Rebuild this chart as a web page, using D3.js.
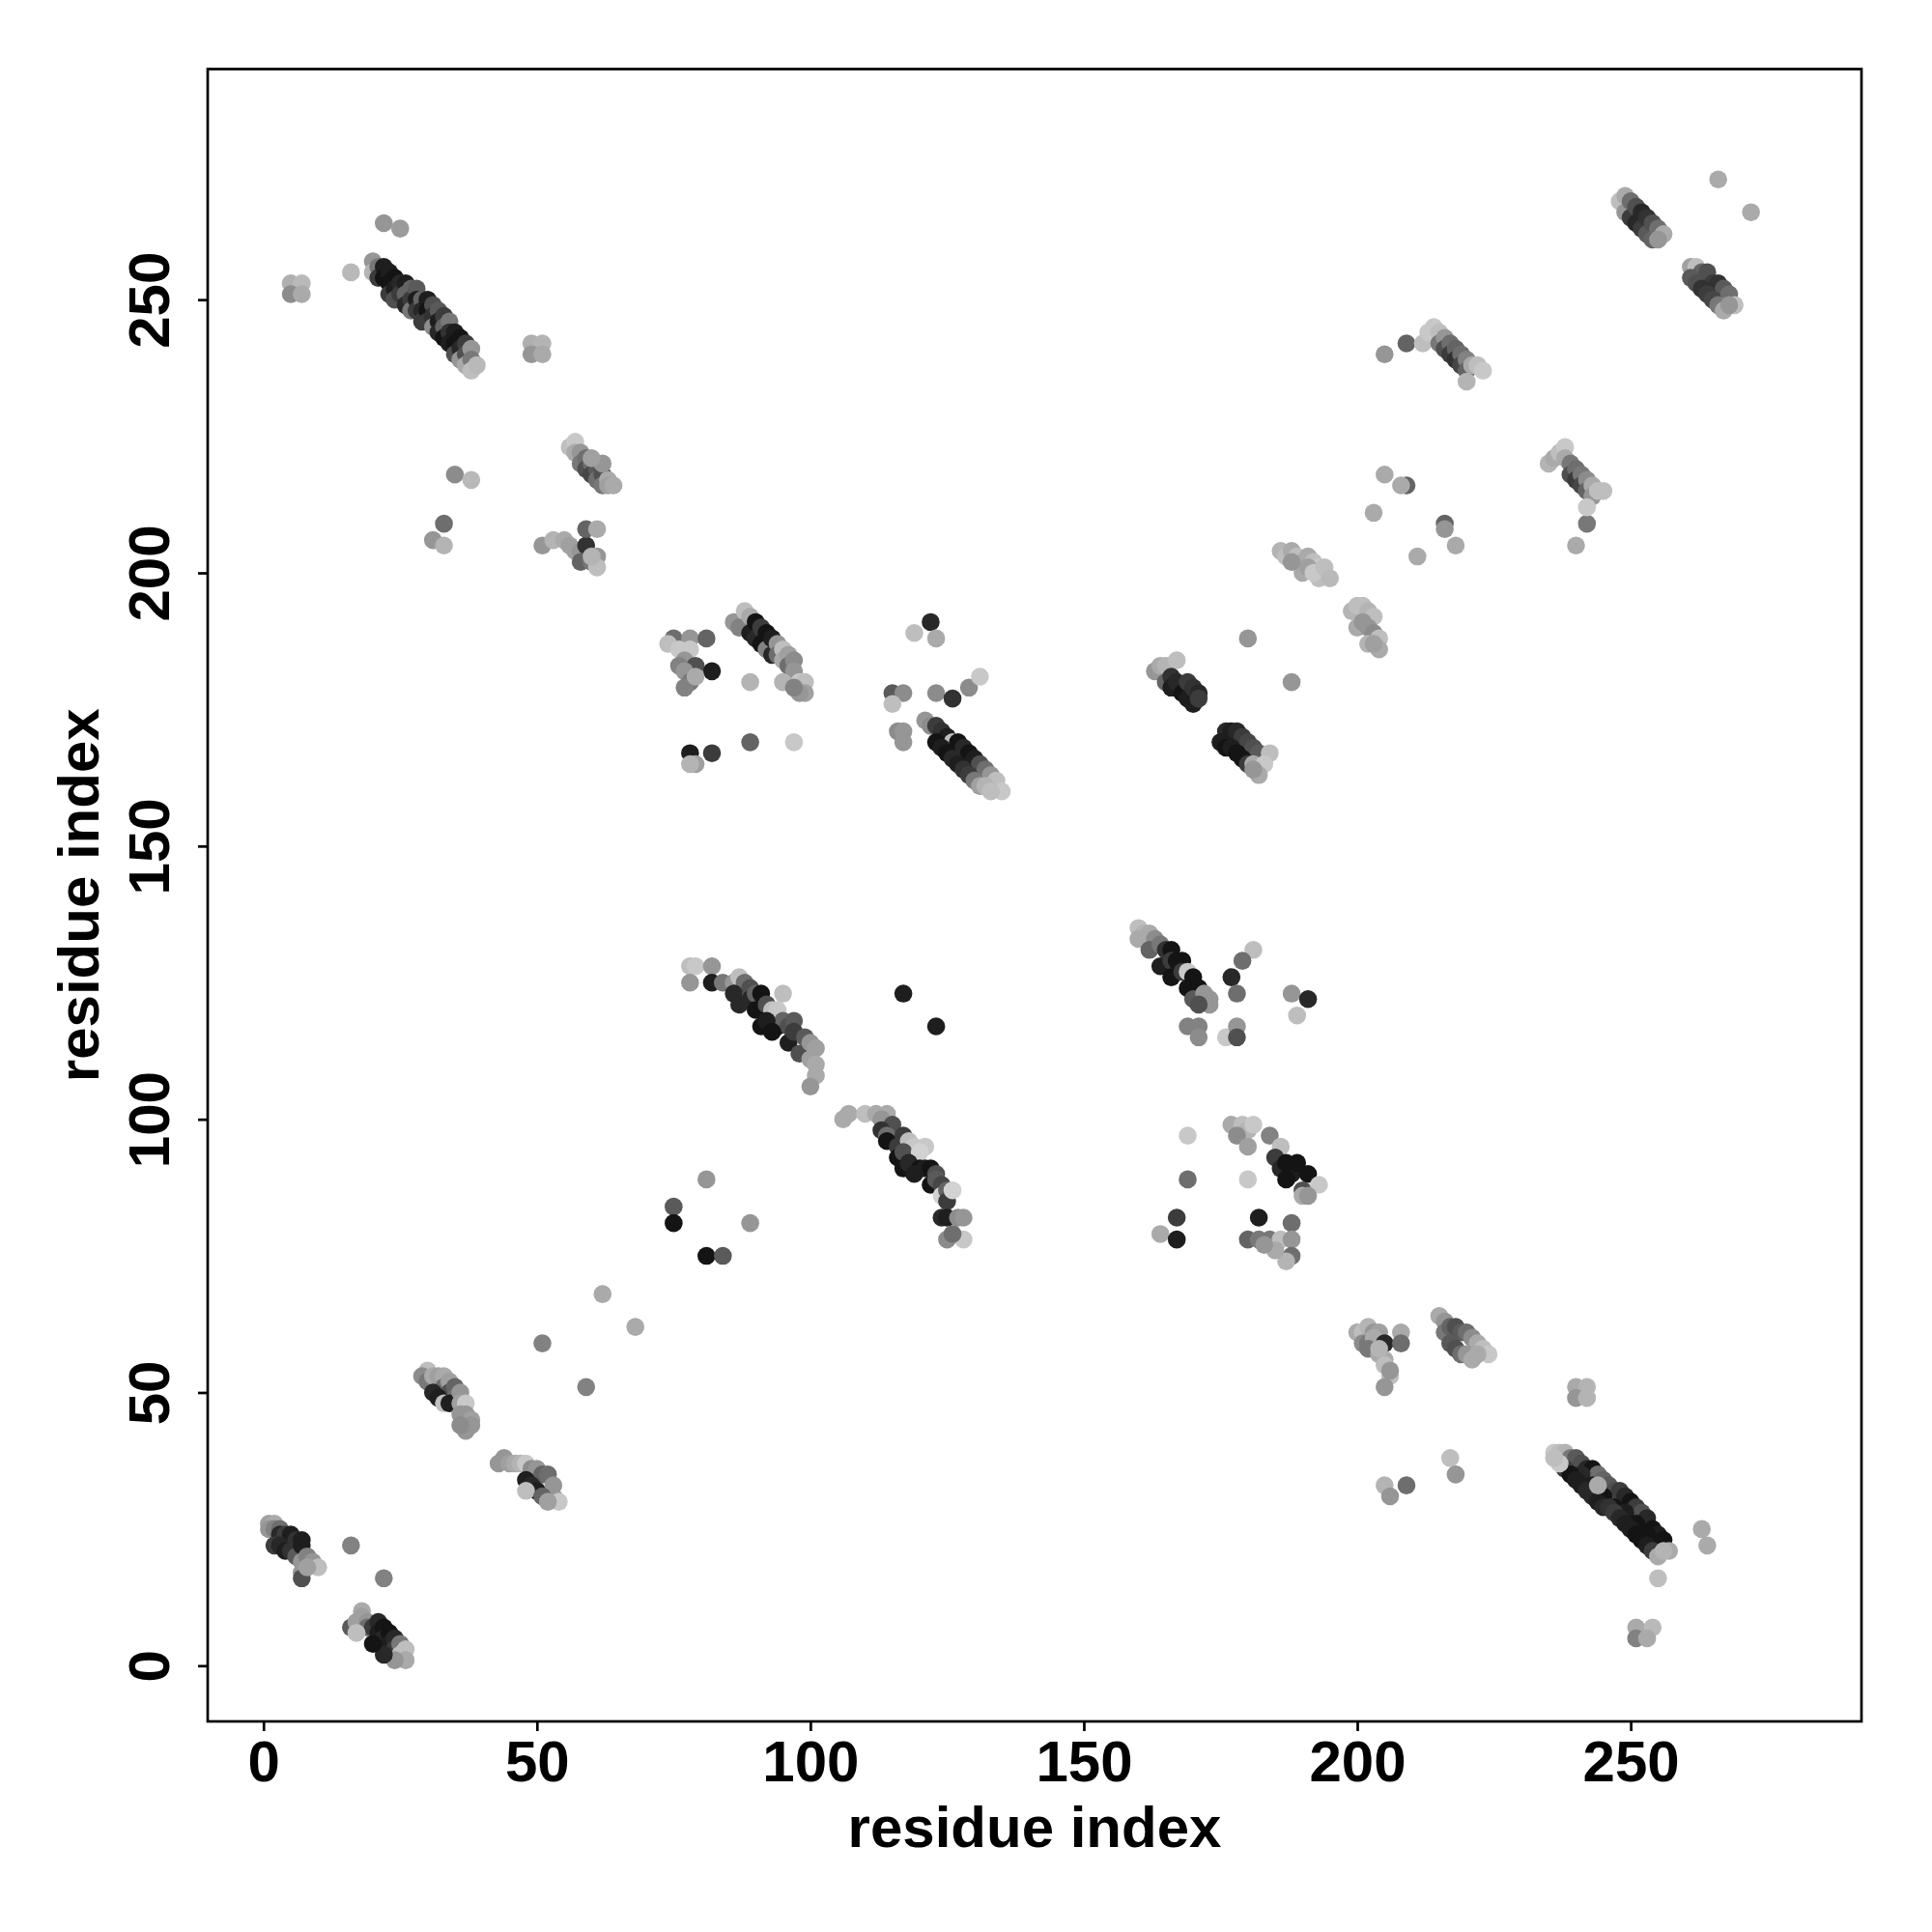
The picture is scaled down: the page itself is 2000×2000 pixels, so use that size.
<!DOCTYPE html>
<html><head><meta charset="utf-8">
<script src="https://cdn.jsdelivr.net/npm/d3@7"></script>
<style>html,body{margin:0;padding:0;background:#fff}</style>
</head><body>
<svg id="c" width="2000" height="2000"></svg>
<script>
// Each point: [residue i, residue j, gray level 0-255]
const tickValues = [0, 50, 100, 150, 200, 250];
const xLabel = "residue index", yLabel = "residue index";

const topLeftIsolated = [[5,253,175],[7,253,185],[5,251,140],[7,251,170],[16,255,185],[22,264,150],[25,263,155],[49,242,175],[51,242,180],[49,240,150],[51,240,170],[35,218,140],[38,217,185],[33,209,110],[31,206,150],[33,205,180]];
const topLeftBand = [[20,257,150],[20,255,180],[21,256,120],[21,254,60],[22,256,30],[22,254,20],[23,255,30],[23,253,20],[23,251,60],[24,254,20],[24,252,30],[24,250,80],[25,253,40],[25,251,60],[26,253,30],[26,251,100],[26,249,40],[27,252,100],[27,250,60],[27,248,120],[28,252,90],[28,250,30],[28,248,60],[29,250,100],[29,248,40],[29,246,60],[30,250,30],[30,248,20],[30,246,60],[31,249,80],[31,247,50],[31,245,140],[32,248,90],[32,246,30],[32,244,40],[33,247,60],[33,245,100],[33,243,20],[34,246,120],[34,244,50],[34,242,30],[35,244,30],[35,242,20],[35,240,80],[36,243,20],[36,241,40],[36,239,150],[37,242,60],[37,240,80],[37,238,170],[38,241,150],[38,239,120],[38,237,190],[39,238,185]];
const band56 = [[56,223,190],[57,224,200],[57,222,170],[58,222,150],[58,220,120],[59,221,110],[59,219,80],[60,220,110],[60,218,70],[61,219,90],[61,217,110],[62,218,80],[62,216,120],[63,217,170],[63,216,160],[64,216,170],[62,220,150],[60,221,160]];
const group51 = [[51,205,150],[53,206,180],[55,206,170],[56,205,160],[57,204,160],[58,204,150],[59,205,50],[59,208,100],[61,208,170],[61,203,150],[58,202,100],[60,202,120],[61,201,190],[60,203,180]];
const group75 = [[75,188,110],[78,188,150],[81,188,100],[74,187,190],[76,186,200],[78,186,200],[77,184,150],[76,183,130],[79,183,80],[82,182,30],[78,181,40],[77,182,150],[78,180,120],[77,179,130],[79,181,170],[78,167,30],[82,167,60],[79,165,160],[78,165,180],[89,169,100],[97,169,200],[89,180,180]];
const band86 = [[86,191,150],[87,190,130],[88,193,190],[89,192,170],[89,189,30],[90,191,20],[90,188,40],[91,190,60],[91,187,20],[92,189,20],[92,186,130],[93,188,30],[93,185,40],[94,187,150],[94,185,110],[95,186,190],[95,184,170],[96,185,160],[96,183,110],[97,184,140],[97,182,150],[98,180,200],[99,180,190],[99,178,160],[98,178,150],[95,180,180],[97,179,130]];
const group120 = [[122,191,40],[119,189,190],[123,188,170],[115,178,90],[117,178,140],[115,176,190],[123,178,140],[126,177,50],[129,179,140],[131,181,200],[116,171,140],[117,171,150],[117,169,150],[121,173,150],[122,172,140],[123,172,60],[124,171,50],[125,170,30],[126,169,190],[127,169,20],[128,168,40],[129,167,20],[130,166,30],[131,165,80],[132,164,110],[133,163,150],[134,162,190],[135,160,200],[123,169,20],[124,168,30],[125,167,20],[126,166,40],[127,165,30],[128,164,50],[129,163,60],[130,162,120],[131,161,160],[132,161,180],[133,160,190]];
const band78 = [[78,128,190],[79,128,200],[82,128,150],[78,125,150],[82,125,30],[84,125,120],[86,125,150],[87,126,190],[88,125,110],[89,124,80],[89,122,40],[90,123,100],[91,123,20],[90,120,20],[91,117,20],[92,121,80],[93,120,190],[94,120,200],[95,123,190],[94,117,20],[95,118,100],[96,117,80],[97,118,90],[96,114,30],[97,116,60],[98,112,80],[99,115,90],[100,114,150],[101,113,160],[100,111,160],[101,110,170],[101,108,170],[100,106,150],[86,123,40],[87,121,40],[92,118,30],[93,116,20]];
const isolatedMid = [[117,123,30],[123,117,30],[81,89,150],[75,84,90],[75,81,20],[89,81,150],[81,75,20],[84,75,90],[62,68,170],[68,62,170],[51,59,130],[59,51,130],[16,22,130],[22,16,130]];
const band106 = [[106,100,170],[107,101,170],[110,101,190],[112,101,170],[114,101,170],[113,100,150],[115,99,80],[113,98,50],[114,97,110],[117,97,60],[114,96,20],[116,95,60],[118,96,190],[119,95,200],[121,95,200],[116,93,20],[117,94,80],[120,94,210],[117,91,20],[118,92,40],[120,91,20],[119,90,30],[121,91,30],[122,91,20],[123,90,80],[122,88,20],[123,89,90],[124,88,70],[124,86,210],[125,87,100],[125,85,60],[126,87,210],[124,82,40],[125,82,30],[127,82,140],[128,82,150],[125,78,140],[128,78,200],[126,79,110]];
const band163 = [[163,182,150],[164,183,170],[165,183,180],[167,184,190],[165,180,100],[166,181,50],[166,179,30],[167,180,40],[168,178,20],[169,180,60],[169,177,30],[170,179,50],[171,178,40],[170,176,30],[171,177,60],[180,188,150],[188,180,150]];
const band176 = [[176,171,40],[177,171,30],[178,171,40],[179,170,60],[180,169,70],[181,168,80],[182,167,90],[184,167,190],[175,169,30],[176,168,20],[177,168,30],[178,167,20],[179,166,20],[180,165,60],[181,165,170],[183,165,200],[182,163,170],[181,164,150]];
const band160 = [[160,135,190],[161,134,180],[162,134,170],[160,133,170],[163,133,140],[162,131,100],[164,132,120],[165,131,50],[166,131,20],[164,128,30],[166,129,60],[167,129,20],[168,129,20],[166,126,20],[168,127,60],[169,127,200],[170,126,20],[169,124,20],[171,124,20],[170,122,90],[172,123,150],[173,122,150],[173,121,150],[171,121,80],[181,131,190],[179,129,110],[177,126,40],[178,123,110],[188,123,150],[191,122,40],[189,119,190],[169,117,130],[171,117,130],[171,115,140],[176,115,200],[178,117,150],[178,115,80]];
const group177 = [[169,97,200],[169,89,110],[167,82,60],[164,79,170],[167,78,30],[180,89,200],[177,99,170],[179,99,190],[180,98,180],[181,99,200],[178,97,140],[180,95,160],[184,97,130],[186,95,190],[185,93,60],[186,91,40],[188,90,30],[187,92,20],[189,92,20],[191,90,20],[187,89,20],[190,87,80],[193,88,200],[190,86,170],[191,86,150],[182,82,30],[188,81,110],[180,78,100],[182,78,120],[184,78,120],[186,78,190],[188,78,150],[188,75,110],[187,74,180],[185,76,170],[183,77,150]];
const group186 = [[186,204,180],[187,203,190],[188,204,170],[189,203,190],[190,202,180],[191,203,170],[192,202,190],[193,201,200],[194,200,180],[193,199,190],[190,200,170],[191,201,160],[188,202,150],[192,200,200],[194,201,190],[195,199,185],[199,193,180],[200,194,190],[201,194,190],[202,193,180],[203,192,190],[200,190,170],[201,191,150],[202,190,150],[203,189,140],[204,188,190],[202,187,180],[204,186,170],[203,187,160]];
const isolatedTopRight = [[205,240,150],[209,242,100],[205,218,170],[209,216,100],[208,216,170],[203,211,170],[216,209,100],[216,208,150],[218,205,170],[211,203,170],[242,209,120],[240,205,170],[266,272,170],[272,266,170]];
const band212 = [[212,242,190],[213,244,200],[214,245,200],[215,244,190],[215,242,120],[216,243,150],[216,241,80],[217,242,110],[217,240,60],[218,241,100],[218,239,50],[219,240,110],[219,238,70],[220,239,130],[220,237,100],[221,238,170],[222,238,190],[223,237,200],[220,235,180]];
const band235 = [[235,220,180],[236,221,170],[237,222,190],[238,223,200],[238,221,170],[239,220,120],[239,218,80],[240,219,110],[240,217,60],[241,218,120],[241,216,70],[242,217,140],[242,215,100],[243,216,170],[243,214,150],[244,215,190],[245,215,190],[242,212,200]];
const band248 = [[248,268,190],[249,269,170],[249,266,150],[250,268,110],[250,265,60],[251,267,80],[251,264,40],[252,266,40],[252,263,60],[253,265,50],[253,262,90],[254,264,80],[254,261,100],[255,263,110],[256,262,170],[255,261,150]];
const band261 = [[261,256,160],[262,256,190],[263,255,100],[264,255,80],[265,253,60],[266,253,50],[267,252,90],[268,251,110],[269,249,190],[261,254,90],[262,253,80],[263,252,50],[264,251,60],[265,250,70],[266,249,120],[267,248,170],[268,249,150]];
const band30 = [[30,54,190],[29,53,140],[30,52,120],[31,53,170],[32,53,160],[33,53,170],[33,51,110],[34,52,160],[34,50,80],[35,51,100],[35,49,110],[31,50,40],[32,49,30],[33,48,190],[34,48,30],[36,50,150],[36,48,160],[37,48,200],[37,46,150],[36,46,150],[38,45,160],[38,44,150],[37,43,150],[36,44,140]];
const band43 = [[43,37,150],[44,38,150],[45,37,160],[46,37,170],[47,37,180],[48,37,200],[49,36,140],[50,36,150],[51,35,100],[52,35,110],[48,34,30],[49,33,40],[50,32,30],[53,33,150],[53,31,150],[54,30,200],[48,32,190],[51,31,100],[52,30,160]];
const band1 = [[1,26,160],[2,26,170],[1,25,150],[2,25,130],[3,25,110],[3,24,40],[4,24,60],[5,24,30],[6,23,50],[7,23,30],[2,22,60],[3,22,40],[4,21,30],[5,21,50],[6,20,90],[7,22,30],[7,19,150],[8,20,130],[9,19,150],[10,18,190],[7,17,150],[7,16,80],[8,18,160]];
const band16 = [[16,7,90],[17,8,160],[18,10,170],[18,9,160],[19,8,150],[19,7,110],[20,7,60],[21,8,40],[21,6,30],[22,7,20],[22,5,40],[23,6,20],[23,4,30],[24,5,40],[24,3,60],[25,4,120],[25,2,190],[26,3,190],[26,1,170],[24,1,150],[22,2,40],[20,4,20],[17,6,190]];
const group200 = [[200,61,170],[201,61,190],[202,62,180],[203,61,150],[204,61,160],[201,59,140],[202,59,120],[203,60,170],[205,59,40],[208,61,170],[208,59,110],[202,58,120],[204,57,170],[205,56,170],[205,55,190],[206,53,190],[205,51,150],[206,54,150],[204,58,180],[205,33,180],[209,33,110],[206,31,150],[217,38,190],[218,35,150]];
const band215 = [[215,64,170],[216,63,150],[216,61,120],[217,62,100],[218,62,80],[219,61,90],[220,61,110],[221,60,140],[222,59,170],[223,58,190],[224,57,200],[217,59,90],[218,58,80],[219,57,110],[220,57,150],[221,56,170],[222,57,170]];
const band237 = [[236,39,200],[237,39,190],[238,39,180],[239,38,120],[240,38,90],[241,37,80],[242,36,40],[243,36,20],[244,35,110],[245,34,100],[246,33,90],[247,32,80],[248,32,60],[249,31,40],[250,30,20],[251,29,60],[252,28,80],[253,27,40],[254,25,20],[255,24,30],[256,23,20],[257,21,170],[241,35,40],[243,33,30],[245,31,20],[247,29,20],[249,28,30],[251,26,20],[253,24,20],[238,36,60],[239,35,20],[240,34,30],[241,33,30],[242,32,40],[243,31,40],[244,30,30],[245,29,40],[246,29,50],[247,28,60],[248,27,40],[249,26,30],[250,25,30],[251,24,20],[252,23,20],[253,22,30],[254,21,60],[255,20,170],[256,21,180],[244,33,170],[237,37,200],[236,38,190]];
const isolatedBottomRight = [[240,51,170],[242,51,180],[240,49,150],[242,49,180],[263,25,170],[264,22,170],[255,16,190],[251,7,170],[254,7,185],[251,5,130],[253,5,170]];

const groups = [topLeftIsolated, topLeftBand, band56, group51, group75, band86, group120, band78, isolatedMid, band106, band163, band176, band160, group177, group186, isolatedTopRight, band212, band235, band248, band261, band30, band43, band1, band16, group200, band215, band237, isolatedBottomRight];
const points = groups.flat();

const svg = d3.select("#c");
const L = 215, R = 1927, T = 71.5, B = 1782;
const x = d3.scaleLinear().domain([-10.2, 292.2]).range([L, R]);
const y = d3.scaleLinear().domain([-10.2, 292.2]).range([B, T]);
const font = "'Liberation Sans', Arial, Helvetica, sans-serif";
const fs = 60;

svg.append("g").selectAll("circle").data(points).join("circle")
  .attr("cx", d => x(d[0])).attr("cy", d => y(d[1])).attr("r", 9.3)
  .attr("fill", d => `rgb(${d[2]},${d[2]},${d[2]})`);

const xa = svg.append("g").attr("transform", `translate(0,${B})`)
  .call(d3.axisBottom(x).tickValues(tickValues).tickSize(10).tickFormat(d3.format("d")));
xa.select(".domain").remove();
xa.selectAll("line").attr("stroke", "#000").attr("stroke-width", 2.7);
xa.selectAll("text").attr("y", 62).attr("dy", 0)
  .attr("font-family", font).attr("font-weight", "bold").attr("font-size", fs).attr("fill", "#000");

const ya = svg.append("g").attr("transform", `translate(${L},0)`)
  .call(d3.axisLeft(y).tickValues(tickValues).tickSize(10).tickFormat(d3.format("d")));
ya.select(".domain").remove();
ya.selectAll("line").attr("stroke", "#000").attr("stroke-width", 2.7);
ya.selectAll("text").attr("x", 0).attr("y", -40).attr("dy", 0)
  .attr("transform", "rotate(-90)").attr("text-anchor", "middle")
  .attr("font-family", font).attr("font-weight", "bold").attr("font-size", fs).attr("fill", "#000");

svg.append("rect").attr("x", L).attr("y", T).attr("width", R - L).attr("height", B - T)
  .attr("fill", "none").attr("stroke", "#000").attr("stroke-width", 2.7);

svg.append("text").attr("x", (L + R) / 2).attr("y", 1912).attr("text-anchor", "middle")
  .attr("font-family", font).attr("font-weight", "bold").attr("font-size", fs).text(xLabel);
svg.append("text").attr("transform", `translate(102,${(T + B) / 2}) rotate(-90)`).attr("text-anchor", "middle")
  .attr("font-family", font).attr("font-weight", "bold").attr("font-size", fs).text(yLabel);
</script>
</body></html>
